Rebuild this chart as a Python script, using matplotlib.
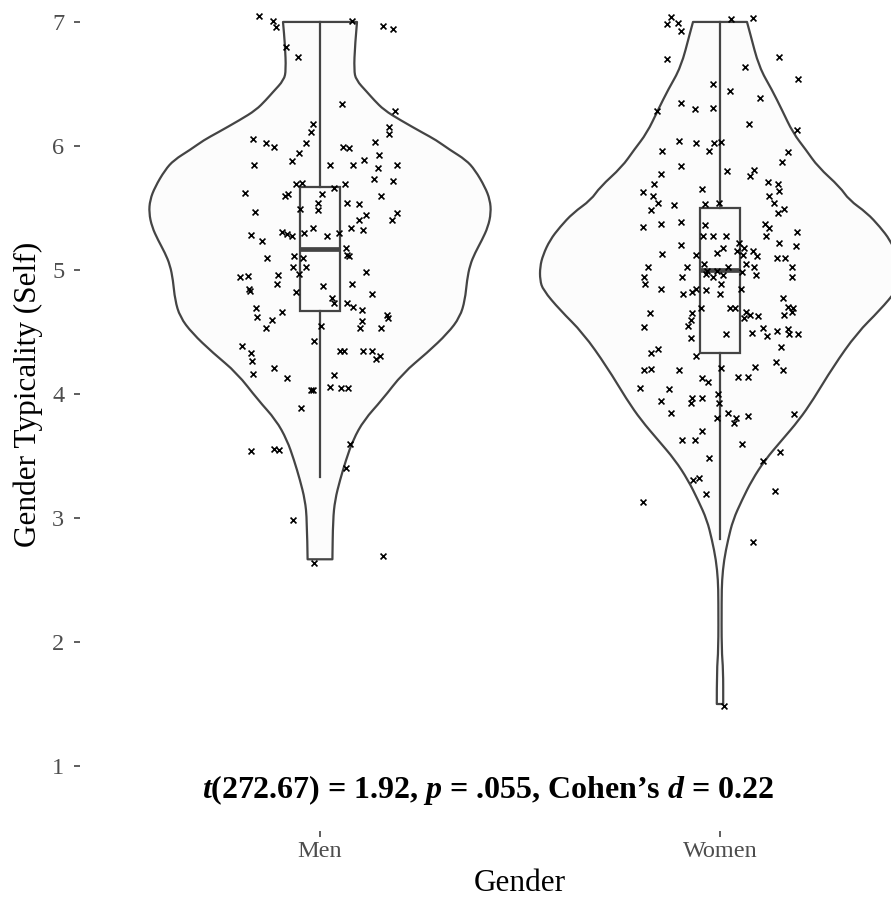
import numpy as np
import matplotlib
matplotlib.use('Agg')
import matplotlib.pyplot as plt
from matplotlib.path import Path
from matplotlib.patches import PathPatch

plt.rcParams['font.family'] = 'Liberation Serif'
plt.rcParams['mathtext.fontset'] = 'custom'
plt.rcParams['mathtext.it'] = 'Liberation Serif:italic:bold'
plt.rcParams['mathtext.rm'] = 'Liberation Serif:bold'

groups = ['Men', 'Women']

# violin outline: y level / half width
men_violin_y = [2.667, 2.984, 3.145, 3.306, 3.468, 3.629, 3.790, 3.952, 4.169, 4.331,
                4.492, 4.621, 4.758, 4.919, 5.040, 5.137, 5.242, 5.347, 5.460, 5.565,
                5.669, 5.806, 5.887, 5.968, 6.048, 6.105, 6.210, 6.290, 6.371, 6.435,
                6.532, 6.613, 6.815, 7.0]
men_violin_hw = [0.031, 0.0325, 0.0375, 0.05, 0.065, 0.0825, 0.11, 0.155, 0.2075, 0.2675,
                 0.32, 0.35, 0.3625, 0.3675, 0.375, 0.3875, 0.405, 0.42, 0.4275, 0.425,
                 0.4125, 0.3875, 0.365, 0.325, 0.29, 0.2575, 0.20, 0.16, 0.135, 0.1175,
                 0.09, 0.085, 0.0875, 0.0925]
women_violin_y = [1.5, 1.774, 1.935, 2.339, 2.5, 2.661, 2.823, 2.984, 3.145, 3.306,
                  3.468, 3.629, 3.790, 3.952, 4.218, 4.492, 4.677, 4.839, 4.919, 5.024,
                  5.121, 5.242, 5.347, 5.460, 5.565, 5.669, 5.831, 5.968, 6.105, 6.290,
                  6.452, 6.637, 6.911, 7.0]
women_violin_hw = [0.008, 0.008, 0.004, 0.004, 0.005, 0.01, 0.02, 0.0325, 0.055, 0.08,
                   0.1125, 0.155, 0.1975, 0.2325, 0.2825, 0.3425, 0.40, 0.4425, 0.45, 0.45,
                   0.4425, 0.425, 0.40, 0.3675, 0.3225, 0.30, 0.245, 0.215, 0.1825, 0.155,
                   0.13, 0.0975, 0.075, 0.0675]

men_box = {'whislo': 3.333, 'q1': 4.667, 'med': 5.167, 'q3': 5.667, 'whishi': 7.0}
women_box = {'whislo': 2.833, 'q1': 4.333, 'med': 5.0, 'q3': 5.5, 'whishi': 7.0}

# jittered responses: horizontal jitter offset and (jittered) value
men_jit = [-0.153, -0.118, -0.110, -0.085, -0.055, 0.080, 0.158, 0.183, 0.055, 0.188,
           -0.018, -0.023, 0.173, 0.173, -0.168, -0.135, -0.115, -0.035, -0.053, -0.070,
           0.058, 0.073, 0.138, 0.148, -0.165, 0.025, 0.083, 0.110, 0.145, 0.193,
           0.135, 0.183, -0.060, -0.045, 0.035, 0.063, -0.188, -0.088, -0.080, 0.005,
           0.153, -0.005, 0.068, 0.098, -0.050, -0.005, -0.163, 0.193, 0.115, 0.098,
           0.180, -0.095, -0.083, -0.070, -0.040, -0.018, 0.078, 0.108, 0.048, 0.018,
           -0.173, -0.145, 0.065, 0.068, 0.073, -0.133, -0.065, -0.043, -0.068, -0.035,
           -0.053, 0.115, -0.200, -0.180, -0.105, -0.108, -0.178, -0.175, 0.080, 0.008,
           -0.060, 0.130, 0.030, 0.035, 0.068, 0.083, 0.105, 0.168, 0.170, -0.160,
           -0.158, -0.095, -0.120, -0.135, 0.105, 0.100, 0.153, 0.003, -0.015, -0.195,
           -0.173, -0.170, -0.168, -0.115, -0.083, 0.050, 0.060, 0.108, 0.130, 0.140,
           0.150, 0.035, -0.023, -0.018, 0.025, 0.053, 0.070, -0.048, 0.075, -0.173,
           -0.115, -0.103, 0.065, -0.068, -0.015, 0.158]
men_y = [7.05, 7.01, 6.96, 6.80, 6.72, 7.01, 6.97, 6.94, 6.34, 6.28,
         6.18, 6.11, 6.15, 6.10, 6.06, 6.02, 5.99, 6.02, 5.94, 5.88,
         5.99, 5.98, 6.03, 5.93, 5.85, 5.85, 5.85, 5.89, 5.82, 5.85,
         5.73, 5.72, 5.69, 5.70, 5.66, 5.69, 5.62, 5.60, 5.61, 5.61,
         5.60, 5.54, 5.54, 5.53, 5.49, 5.48, 5.47, 5.46, 5.44, 5.40,
         5.40, 5.31, 5.29, 5.27, 5.30, 5.34, 5.34, 5.32, 5.30, 5.27,
         5.28, 5.23, 5.18, 5.12, 5.11, 5.10, 5.11, 5.10, 5.02, 5.02,
         4.97, 4.98, 4.94, 4.95, 4.96, 4.89, 4.85, 4.83, 4.89, 4.87,
         4.82, 4.81, 4.77, 4.73, 4.73, 4.70, 4.68, 4.64, 4.61, 4.69,
         4.62, 4.66, 4.60, 4.53, 4.59, 4.53, 4.53, 4.55, 4.43, 4.39,
         4.33, 4.27, 4.16, 4.21, 4.13, 4.35, 4.35, 4.35, 4.35, 4.28,
         4.31, 4.15, 4.03, 4.03, 4.06, 4.05, 4.05, 3.89, 3.60, 3.54,
         3.56, 3.55, 3.40, 2.98, 2.64, 2.69]

women_jit = [-0.123, -0.133, -0.105, -0.098, 0.028, 0.083, -0.133, 0.063, 0.148, 0.195,
             -0.018, 0.025, 0.100, -0.098, -0.063, -0.018, -0.158, 0.073, 0.193, -0.103,
             -0.060, -0.015, 0.003, -0.028, -0.145, 0.170, 0.155, -0.098, 0.018, 0.085,
             0.075, -0.148, -0.165, -0.193, -0.168, -0.045, 0.120, 0.145, 0.123, 0.148,
             -0.155, -0.173, -0.115, -0.038, -0.003, 0.135, 0.145, 0.160, -0.193, -0.148,
             -0.098, -0.038, 0.113, 0.123, 0.115, 0.193, -0.043, -0.018, 0.015, -0.098,
             0.148, 0.190, -0.145, -0.060, 0.008, -0.008, 0.048, 0.043, 0.060, 0.058,
             0.083, 0.093, 0.143, 0.163, -0.180, -0.083, -0.040, -0.033, -0.008, 0.020,
             0.065, 0.085, 0.055, 0.180, -0.190, -0.188, -0.095, -0.035, -0.018, 0.008,
             0.090, 0.180, -0.148, -0.093, -0.070, -0.060, -0.035, 0.003, 0.000, 0.053,
             0.158, 0.170, 0.183, 0.180, 0.160, -0.175, -0.048, 0.025, 0.038, 0.065,
             0.075, 0.095, 0.060, -0.070, -0.073, -0.080, -0.190, -0.073, 0.015, 0.080,
             0.108, 0.118, 0.143, 0.170, 0.173, 0.195, 0.153, -0.173, -0.155, -0.060,
             0.003, 0.088, 0.140, 0.158, -0.190, -0.173, -0.103, -0.045, -0.030, 0.045,
             0.070, -0.200, -0.128, -0.005, -0.003, -0.070, -0.045, -0.073, -0.148, -0.123,
             -0.008, 0.020, 0.040, 0.035, 0.070, 0.185, -0.045, -0.095, -0.063, 0.055,
             0.150, 0.108, -0.028, -0.068, -0.053, -0.035, -0.193, 0.138, 0.083, 0.010]
women_y = [7.04, 6.98, 6.99, 6.93, 7.02, 7.03, 6.70, 6.64, 6.72, 6.54,
           6.50, 6.44, 6.39, 6.35, 6.30, 6.31, 6.28, 6.18, 6.13, 6.04,
           6.02, 6.02, 6.03, 5.96, 5.96, 5.95, 5.87, 5.84, 5.80, 5.81,
           5.76, 5.77, 5.69, 5.63, 5.60, 5.65, 5.71, 5.69, 5.60, 5.64,
           5.54, 5.48, 5.52, 5.53, 5.54, 5.54, 5.46, 5.49, 5.35, 5.37,
           5.39, 5.36, 5.37, 5.34, 5.27, 5.31, 5.27, 5.27, 5.27, 5.20,
           5.22, 5.19, 5.13, 5.12, 5.18, 5.14, 5.22, 5.15, 5.18, 5.12,
           5.15, 5.11, 5.10, 5.10, 5.02, 5.02, 5.05, 4.99, 4.99, 5.02,
           5.05, 5.02, 4.98, 5.02, 4.94, 4.89, 4.94, 4.97, 4.94, 4.96,
           4.96, 4.94, 4.85, 4.81, 4.82, 4.85, 4.84, 4.89, 4.81, 4.85,
           4.77, 4.70, 4.69, 4.66, 4.64, 4.65, 4.69, 4.69, 4.69, 4.66,
           4.64, 4.63, 4.61, 4.65, 4.60, 4.55, 4.54, 4.45, 4.48, 4.49,
           4.53, 4.47, 4.51, 4.52, 4.48, 4.48, 4.38, 4.33, 4.36, 4.31,
           4.21, 4.22, 4.26, 4.19, 4.19, 4.20, 4.19, 4.13, 4.10, 4.14,
           4.14, 4.05, 4.04, 4.00, 3.93, 3.97, 3.97, 3.93, 3.94, 3.85,
           3.81, 3.85, 3.81, 3.77, 3.82, 3.84, 3.70, 3.63, 3.63, 3.60,
           3.53, 3.46, 3.48, 3.31, 3.32, 3.19, 3.13, 3.22, 2.81, 1.48]

stat_text = r'$t$(272.67) = 1.92, $p$ = .055, Cohen’s $d$ = 0.22'

line_col = '#444444'
fill_col = '#FCFCFC'


def smooth_side(xs, ys):
    # quadratic bezier through the midpoints, keeps the end points
    verts = [(xs[0], ys[0])]
    codes = []
    for i in range(1, len(xs) - 1):
        verts.append((xs[i], ys[i]))
        verts.append(((xs[i] + xs[i + 1]) / 2, (ys[i] + ys[i + 1]) / 2))
        codes += [Path.CURVE3, Path.CURVE3]
    verts.append((xs[-1], ys[-1]))
    codes.append(Path.LINETO)
    return verts, codes


def violin_patch(pos, vy, vhw):
    vy = np.array(vy)
    vhw = np.array(vhw)
    lv, lc = smooth_side(pos - vhw, vy)
    rv, rc = smooth_side((pos + vhw)[::-1], vy[::-1])
    verts = lv + rv + [lv[0]]
    codes = [Path.MOVETO] + lc + [Path.LINETO] + rc + [Path.CLOSEPOLY]
    return PathPatch(Path(verts, codes), facecolor=fill_col, edgecolor=line_col,
                     linewidth=1.6, joinstyle='round', zorder=1)


fig = plt.figure(figsize=(8.91, 9.06), dpi=100)
ax = fig.add_axes([80 / 891, 75 / 906, 811 / 891, 831 / 906])

violins = [(men_violin_y, men_violin_hw), (women_violin_y, women_violin_hw)]
boxes = [men_box, women_box]
points = [(men_jit, men_y), (women_jit, women_y)]

for pos, (vy, vhw) in zip([1, 2], violins):
    ax.add_patch(violin_patch(pos, vy, vhw))

for pos, st in zip([1, 2], boxes):
    st = dict(st, fliers=[])
    ax.bxp([st], positions=[pos], widths=0.1, patch_artist=True, showcaps=False,
           boxprops=dict(facecolor=fill_col, edgecolor=line_col, linewidth=1.6),
           whiskerprops=dict(color=line_col, linewidth=1.6),
           medianprops=dict(color=line_col, linewidth=3.4, solid_capstyle='butt'),
           manage_ticks=False, zorder=2)

for pos, (jit, vals) in zip([1, 2], points):
    ax.scatter(pos + np.array(jit), vals, marker='x', s=18, c='black',
               linewidths=1.2, zorder=4)

ax.text(1.42, 0.81, stat_text, ha='center', va='center', fontsize=23,
        fontweight='bold', color='black')

ax.set_xlim(0.4, 2.4275)
ax.set_ylim(0.476, 7.177)
ax.set_xticks([1, 2])
ax.set_xticklabels(groups)
ax.set_yticks([1, 2, 3, 4, 5, 6, 7])
for s in ax.spines.values():
    s.set_visible(False)
ax.tick_params(length=4.3, width=1.1, color='#333333', labelcolor='#4D4D4D',
               labelsize=17.5)
ax.tick_params(axis='y', pad=7)
ax.tick_params(axis='x', pad=3)

ax.set_xlabel('Gender', fontsize=22.5, va='center')
ax.xaxis.set_label_coords(0.5425, -0.0626)
ax.set_ylabel('Gender Typicality (Self)', fontsize=22.5, va='center')
ax.yaxis.set_label_coords(-0.064, 0.526)

fig.savefig('out.png', dpi=100)
